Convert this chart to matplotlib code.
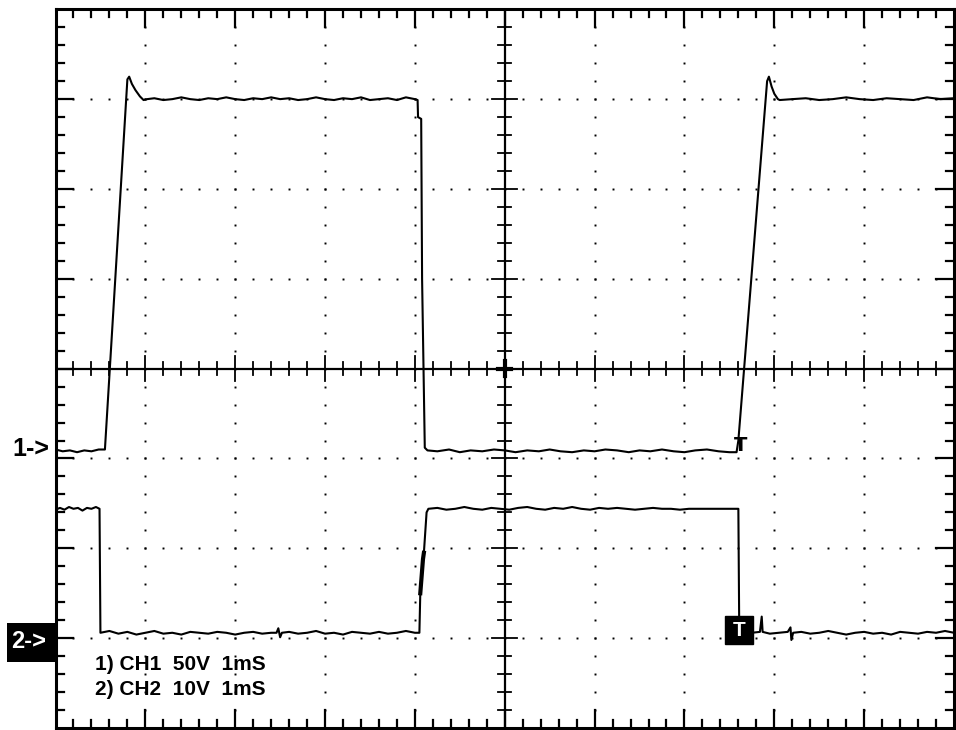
import numpy as np
import matplotlib
matplotlib.use("Agg")
import matplotlib.pyplot as plt
from matplotlib.patches import Rectangle

plt.rcParams['font.family'] = ['Liberation Sans', 'DejaVu Sans']

# CH1 trace (time in divisions of 1 mS, level in divisions)
ch1_t = [0.00, 0.08, 0.16, 0.24, 0.32, 0.40, 0.48, 0.55,
         0.80, 0.82, 0.85, 0.89, 0.94, 0.98, 1.02,
         1.10, 1.20, 1.30, 1.40, 1.50, 1.60, 1.70, 1.80, 1.90, 2.00,
         2.10, 2.20, 2.30, 2.40, 2.50, 2.60, 2.70, 2.80, 2.90, 3.00,
         3.10, 3.20, 3.30, 3.40, 3.50, 3.60, 3.70, 3.80, 3.90, 4.00, 4.03,
         4.035, 4.07, 4.08, 4.11, 4.14,
         4.25, 4.38, 4.50, 4.62, 4.75, 4.88, 5.00, 5.12, 5.25, 5.38,
         5.50, 5.62, 5.75, 5.88, 6.00, 6.12, 6.25, 6.38, 6.50, 6.62,
         6.75, 6.88, 7.00, 7.12, 7.25, 7.38, 7.50, 7.58,
         7.60, 7.92, 7.94, 7.97, 8.00, 8.04, 8.06,
         8.20, 8.35, 8.50, 8.65, 8.80, 8.95, 9.10, 9.25, 9.40, 9.55,
         9.70, 9.85, 10.00]
ch1_v = [-0.90, -0.92, -0.91, -0.93, -0.91, -0.92, -0.90, -0.90,
         3.22, 3.25, 3.17, 3.10, 3.03, 2.99, 3.00,
         3.01, 2.99, 3.00, 3.02, 3.00, 2.99, 3.01, 3.00, 3.02, 3.00,
         2.99, 3.01, 3.00, 3.02, 3.00, 3.01, 2.99, 3.00, 3.02, 3.00,
         2.99, 3.01, 3.00, 3.02, 2.99, 3.00, 3.01, 2.99, 3.02, 3.00, 2.99,
         2.80, 2.78, 1.00, -0.88, -0.91,
         -0.92, -0.90, -0.93, -0.91, -0.92, -0.90, -0.91, -0.93, -0.91, -0.92,
         -0.90, -0.92, -0.93, -0.91, -0.92, -0.90, -0.91, -0.93, -0.91, -0.92,
         -0.90, -0.92, -0.93, -0.91, -0.90, -0.92, -0.93, -0.93,
         -0.80, 3.20, 3.25, 3.14, 3.06, 3.00, 2.99,
         3.00, 3.01, 2.99, 3.00, 3.02, 3.00, 2.99, 3.01, 3.00, 2.99,
         3.02, 3.00, 3.01]

# CH2 trace
ch2_t = [0.00, 0.05, 0.10, 0.15, 0.20, 0.25, 0.30, 0.35, 0.40, 0.45, 0.49, 0.50,
         0.60, 0.70, 0.80, 0.90, 1.00, 1.10, 1.20, 1.30, 1.40, 1.50,
         1.60, 1.70, 1.80, 1.90, 2.00, 2.10, 2.20, 2.30, 2.40, 2.46,
         2.48, 2.50, 2.52, 2.60, 2.70, 2.80, 2.90, 3.00, 3.10, 3.20,
         3.30, 3.40, 3.50, 3.60, 3.70, 3.80, 3.90, 4.00, 4.05,
         4.06, 4.09, 4.10, 4.13, 4.15,
         4.25, 4.35, 4.45, 4.55, 4.65, 4.75, 4.85, 4.95, 5.05, 5.15,
         5.25, 5.35, 5.45, 5.55, 5.65, 5.75, 5.85, 5.95, 6.05, 6.15,
         6.25, 6.35, 6.45, 6.55, 6.65, 6.75, 6.85, 6.95, 7.05, 7.15,
         7.25, 7.35, 7.45, 7.55, 7.60, 7.61,
         7.75, 7.84, 7.86, 7.87, 7.95, 8.05, 8.15, 8.18, 8.19, 8.21,
         8.30, 8.40, 8.50, 8.60, 8.70, 8.80, 8.90, 9.00, 9.10, 9.20,
         9.30, 9.40, 9.50, 9.60, 9.70, 9.80, 9.90, 10.00]
ch2_v = [-1.57, -1.55, -1.57, -1.54, -1.56, -1.55, -1.58, -1.55, -1.56, -1.54, -1.56, -2.94,
         -2.92, -2.95, -2.93, -2.96, -2.94, -2.92, -2.95, -2.94, -2.96, -2.93,
         -2.94, -2.95, -2.93, -2.94, -2.96, -2.94, -2.93, -2.95, -2.94, -2.94,
         -2.89, -2.99, -2.94, -2.93, -2.95, -2.94, -2.92, -2.95, -2.94, -2.96,
         -2.93, -2.94, -2.95, -2.93, -2.95, -2.94, -2.92, -2.94, -2.94,
         -2.50, -2.12, -2.05, -1.60, -1.56,
         -1.55, -1.57, -1.56, -1.54, -1.56, -1.57, -1.55, -1.56, -1.57, -1.55,
         -1.54, -1.56, -1.57, -1.55, -1.56, -1.54, -1.56, -1.57, -1.55, -1.56,
         -1.55, -1.56, -1.57, -1.56, -1.55, -1.56, -1.56, -1.57, -1.56, -1.56,
         -1.56, -1.56, -1.56, -1.56, -1.56, -2.94,
         -2.94, -2.93, -2.76, -2.93, -2.95, -2.94, -2.93, -2.88, -3.02, -2.94,
         -2.93, -2.95, -2.94, -2.92, -2.94, -2.96, -2.94, -2.93, -2.95, -2.94,
         -2.96, -2.93, -2.94, -2.95, -2.93, -2.94, -2.92, -2.94]

ch1_ref = -0.91     # "1->" marker level
ch2_ref = -2.94     # "2->" marker level
trig_t = 7.61
settings = ["1) CH1  50V  1mS", "2) CH2  10V  1mS"]

W, H = 956, 730
fig = plt.figure(figsize=(W / 100, H / 100), dpi=100)
ax = fig.add_axes([55.5 / W, 1 - 728 / H, 898.5 / W, 718.7 / H])
ax.set_xlim(0, 10)
ax.set_ylim(-4, 4)
ax.set_xticks([])
ax.set_yticks([])
for s in ax.spines.values():
    s.set_linewidth(2.2)
    s.set_color('black')

# dotted graticule
steps = np.round(np.arange(0.2, 10, 0.2), 1)
vsteps = np.round(np.arange(-3.8, 4, 0.2), 1)
for gx in [1, 2, 3, 4, 6, 7, 8, 9]:
    ax.plot(np.full(len(vsteps), gx), vsteps, ls='none', marker='s', ms=1.4,
            mec='none', color='black')
for gy in [-3, -2, -1, 1, 2, 3]:
    ax.plot(steps, np.full(len(steps), gy), ls='none', marker='s', ms=1.4,
            mec='none', color='black')

# centre axes with ticks
ax.axhline(0, color='black', lw=1.6)
ax.axvline(5, color='black', lw=1.6)
for x in steps:
    major = abs(x - round(x)) < 1e-6
    h = 0.14 if major else 0.07
    ax.plot([x, x], [-h, h], color='black', lw=1.3)
    # border ticks top / bottom
    L = 0.2 if major else 0.09
    ax.plot([x, x], [4, 4 - L], color='black', lw=1.6)
    ax.plot([x, x], [-4, -4 + L], color='black', lw=1.6)
for y in vsteps:
    major = abs(y - round(y)) < 1e-6
    h = 0.14 if major else 0.07
    ax.plot([5 - h, 5 + h], [y, y], color='black', lw=1.3)
    L = 0.2 if major else 0.09
    ax.plot([0, L], [y, y], color='black', lw=1.6)
    ax.plot([10, 10 - L], [y, y], color='black', lw=1.6)
ax.plot([4.93, 5.07], [0, 0], color='black', lw=3)
ax.plot([5, 5], [-0.08, 0.08], color='black', lw=3)

# traces
ax.plot(ch1_t, ch1_v, color='black', lw=1.5)
ax.plot(ch2_t, ch2_v, color='black', lw=1.5)
# heavier blob on the CH2 rising edge
ax.plot(ch2_t[51:54], ch2_v[51:54], color='black', lw=3)

# trigger markers
ax.text(trig_t + 0.01, ch1_ref + 0.05, "T", ha='center', va='center',
        fontsize=14, fontweight='bold', color='black',
        family=['DejaVu Sans'])
ax.add_patch(Rectangle((trig_t - 0.16, ch2_ref - 0.13), 0.31, 0.32,
                       facecolor='black', edgecolor='black', zorder=5))
ax.text(trig_t - 0.005, ch2_ref + 0.03, "T", ha='center', va='center',
        fontsize=15, fontweight='bold', color='white', zorder=6)

# channel settings
ax.text(0.44, -3.29, settings[0], ha='left', va='center', fontsize=15,
        fontweight='bold')
ax.text(0.44, -3.57, settings[1], ha='left', va='center', fontsize=15,
        fontweight='bold')

# channel reference markers outside the graticule
fig.text(12 / W, 1 - 449 / H, "1->", ha='left', va='center', fontsize=18,
         fontweight='bold', color='black')
fig.patches.append(Rectangle((7 / W, 1 - 662 / H), 48 / W, 39 / H,
                             transform=fig.transFigure, facecolor='black',
                             edgecolor='none'))
fig.text(11 / W, 1 - 641 / H, "2->", ha='left', va='center', fontsize=17,
         fontweight='bold', color='white')

fig.savefig("out.png", dpi=100, facecolor='white')
